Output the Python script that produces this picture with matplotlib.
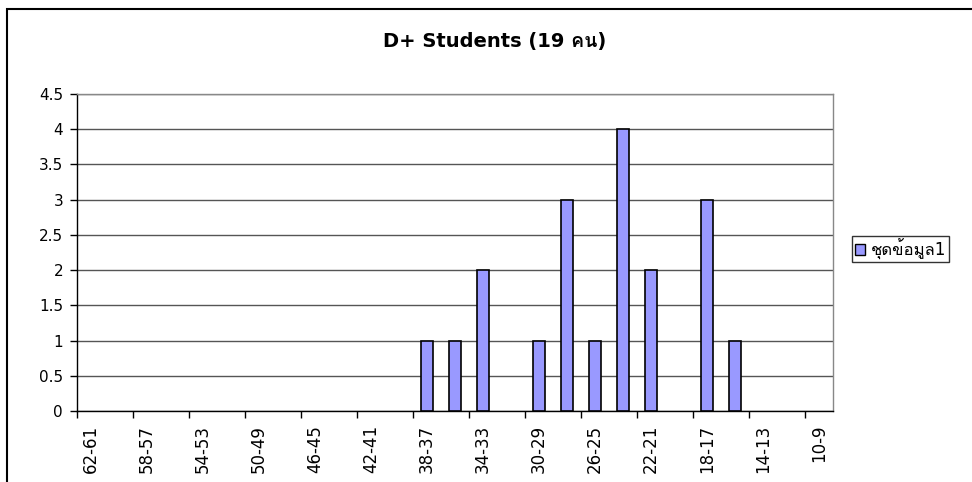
import numpy as np
import matplotlib
matplotlib.use("Agg")
from matplotlib import pyplot as plt
from matplotlib.patches import Rectangle, Patch

# ช่วงคะแนน (ซ้ายไปขวา) และจำนวนนักเรียนในแต่ละช่วง
categories = ["62-61", "60-59", "58-57", "56-55", "54-53", "52-51", "50-49",
              "48-47", "46-45", "44-43", "42-41", "40-39", "38-37", "36-35",
              "34-33", "32-31", "30-29", "28-27", "26-25", "24-23", "22-21",
              "20-19", "18-17", "16-15", "14-13", "12-11", "10-9"]
counts = [0, 0, 0, 0, 0, 0, 0,
          0, 0, 0, 0, 0, 1, 1,
          2, 0, 1, 3, 1, 4, 2,
          0, 3, 1, 0, 0, 0]
series_name = "ชุดข้อมูล1"
title = "D+ Students (19 คน)"
yticks = [0, 0.5, 1, 1.5, 2, 2.5, 3, 3.5, 4, 4.5]

plt.rcParams['font.family'] = ['DejaVu Sans', 'Loma', 'Noto Sans Thai Looped']

fig = plt.figure(figsize=(9.72, 4.82), dpi=100)
ax = fig.add_axes([77/972, 1 - 411/482, 756/972, 317/482])

x = np.arange(len(categories))
bars = ax.bar(x, counts, width=0.43, color="#9999FF", edgecolor="black",
              linewidth=1.2, zorder=3)
# แท่งที่เป็นศูนย์ไม่ต้องมีเส้นขอบ
for b, c in zip(bars, counts):
    if c == 0:
        b.set_linewidth(0)

ax.set_xlim(-0.5, len(categories) - 0.5)
ax.set_ylim(0, 4.5)

# แกน y และเส้นกริด
ax.set_yticks(yticks)
ax.set_yticklabels([f"{v:g}" for v in yticks], fontsize=11)
ax.yaxis.grid(True, color="#555555", linewidth=1, zorder=0)
ax.tick_params(axis="y", direction="out", length=5, width=1, color="black", pad=5)

# แกน x: แสดงป้ายทุก 2 ช่วง ขีดอยู่ที่ขอบช่วง
ax.set_xticks(x[::2])
ax.set_xticklabels(categories[::2], rotation=90, fontsize=12)
ax.tick_params(axis="x", which="major", length=0, pad=10)
ax.set_xticks(np.arange(-0.5, len(categories), 2), minor=True)
ax.tick_params(axis="x", which="minor", direction="out", length=5, width=1, color="black")

ax.spines["left"].set_color("black")
ax.spines["bottom"].set_color("black")
ax.spines["top"].set_color("#888888")
ax.spines["right"].set_color("#888888")
for s in ax.spines.values():
    s.set_linewidth(1)

fig.text(0.509, 1 - 42/482, title, ha="center", va="center",
         fontsize=14, fontweight="bold")

handle = Patch(facecolor="#9999FF", edgecolor="black", linewidth=1)
leg = fig.legend(handles=[handle], labels=[series_name], loc="center left",
                 bbox_to_anchor=(852/972, 1 - 249/482), fontsize=12,
                 frameon=True, fancybox=False, edgecolor="black",
                 handlelength=0.6, handleheight=0.6, handletextpad=0.4,
                 borderpad=0.15, borderaxespad=0)
leg.get_frame().set_linewidth(1)

# กรอบรอบแผนภูมิ
fig.patches.append(Rectangle((7/972, -0.1), 1.2, 1.1 - 9/482, transform=fig.transFigure,
                             fill=False, edgecolor="black", linewidth=1.5))

fig.savefig("out.png")
